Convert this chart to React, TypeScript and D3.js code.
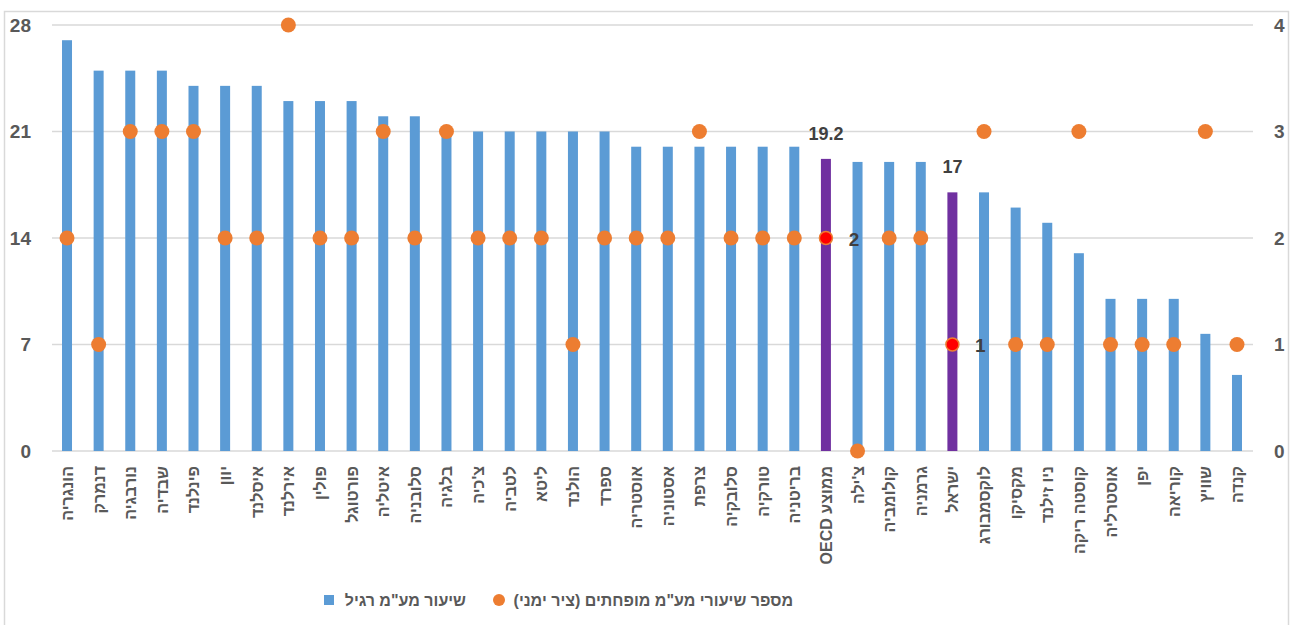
import React from "react";
import * as d3 from "d3";

const categories: string[] = [
  "הונגריה", "דנמרק", "נורבגיה", "שבדיה", "פינלנד", "יוון", "איסלנד", "אירלנד",
  "פולין", "פורטוגל", "איטליה", "סלובניה", "בלגיה", "צ'כיה", "לטביה", "ליטא",
  "הולנד", "ספרד", "אוסטריה", "אסטוניה", "צרפת", "סלובקיה", "טורקיה", "בריטניה",
  "ממוצע OECD", "צ'ילה", "קולומביה", "גרמניה", "ישראל", "לוקסמבורג", "מקסיקו",
  "ניו זילנד", "קוסטה ריקה", "אוסטרליה", "יפן", "קוריאה", "שוויץ", "קנדה",
];
const standardRate: number[] = [
  27, 25, 25, 25, 24, 24, 24, 23, 23, 23, 22, 22, 21, 21, 21, 21, 21, 21,
  20, 20, 20, 20, 20, 20, 19.2, 19, 19, 19, 17, 17, 16, 15, 13, 10, 10, 10, 7.7, 5,
];
const reducedCount: number[] = [
  2, 1, 3, 3, 3, 2, 2, 4, 2, 2, 3, 2, 3, 2, 2, 2, 1, 2, 2, 2, 3, 2, 2, 2,
  2, 0, 2, 2, 1, 3, 1, 1, 3, 1, 1, 1, 3, 1,
];
const highlighted: string[] = ["ממוצע OECD", "ישראל"];
const leftTicks: number[] = [0, 7, 14, 21, 28];
const rightTicks: number[] = [0, 1, 2, 3, 4];
const legendBar = 'שיעור מע"מ רגיל';
const legendDot = 'מספר שיעורי מע"מ מופחתים (ציר ימני)';

const W = 1290;
const H = 625;
const FONT = "'Liberation Sans', Arial, sans-serif";
const GRAY = "#595959";

export default function App() {
  const x = d3.scaleBand<string>().domain(categories).range([51.2, 1252.8]);
  const yL = d3.scaleLinear().domain([0, 28]).range([451, 25]);
  const yR = d3.scaleLinear().domain([0, 4]).range([451, 25]);
  const cx = (c: string) => (x(c) as number) + x.bandwidth() / 2;
  const barW = 10;

  return (
    <svg width={W} height={H} style={{ position: "absolute", left: 0, top: 0, background: "#fff" }} fontFamily={FONT}>
      <rect x={4.5} y={11.5} width={1284} height={640} fill="#fff" stroke="#d9d9d9" strokeWidth={1.5} />
      {leftTicks.map((t) => (
        <line key={"g" + t} x1={52} x2={1253} y1={yL(t)} y2={yL(t)} stroke="#d9d9d9" strokeWidth={1.5} />
      ))}
      {leftTicks.map((t) => (
        <text key={"l" + t} x={31} y={yL(t)} dy="0.36em" textAnchor="end" fontSize={19} fontWeight="bold" fill={GRAY}>
          {t}
        </text>
      ))}
      {rightTicks.map((t) => (
        <text key={"r" + t} x={1274} y={yR(t)} dy="0.36em" textAnchor="start" fontSize={19} fontWeight="bold" fill={GRAY}>
          {t}
        </text>
      ))}
      {categories.map((c, i) => (
        <rect
          key={"b" + c}
          x={cx(c) - barW / 2}
          y={yL(standardRate[i])}
          width={barW}
          height={yL(0) - yL(standardRate[i])}
          fill={highlighted.includes(c) ? "#7030a0" : "#5b9bd5"}
        />
      ))}
      {categories.map((c, i) => {
        const hl = highlighted.includes(c);
        return (
          <circle
            key={"d" + c}
            cx={cx(c)}
            cy={yR(reducedCount[i])}
            r={hl ? 6.5 : 7.5}
            fill={hl ? "#ff0000" : "#ed7d31"}
            stroke={hl ? "#ed7d31" : "none"}
            strokeWidth={1.5}
          />
        );
      })}
      {categories.map((c, i) =>
        highlighted.includes(c) ? (
          <g key={"lab" + c}>
            <text x={cx(c)} y={yL(standardRate[i]) - 19} textAnchor="middle" fontSize={18} fontWeight="bold" fill="#404040">
              {standardRate[i]}
            </text>
            <text x={cx(c) + 28} y={yR(reducedCount[i])} dy="0.4em" textAnchor="middle" fontSize={19} fontWeight="bold" fill="#404040">
              {reducedCount[i]}
            </text>
          </g>
        ) : null
      )}
      {categories.map((c) => (
        <text
          key={"x" + c}
          transform={`translate(${cx(c) + 6},${466}) rotate(-90)`}
          direction="rtl"
          textAnchor="start"
          fontSize={16}
          fontWeight="bold"
          fill={GRAY}
        >
          {c}
        </text>
      ))}
      <g>
        <rect x={324} y={595} width={10} height={10} fill="#5b9bd5" />
        <text x={466} y={600} dy="0.35em" direction="rtl" textAnchor="start" fontSize={16} fontWeight="bold" fill={GRAY}>
          {legendBar}
        </text>
        <circle cx={499} cy={600} r={6} fill="#ed7d31" />
        <text x={793} y={600} dy="0.35em" direction="rtl" textAnchor="start" fontSize={16} fontWeight="bold" fill={GRAY}>
          {legendDot}
        </text>
      </g>
    </svg>
  );
}
